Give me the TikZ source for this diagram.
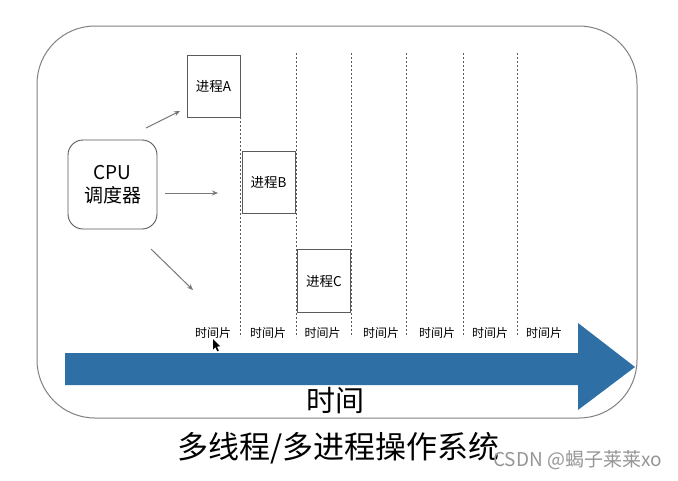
\documentclass[tikz,border=0pt]{standalone}
\usepackage{fontspec}
\setmainfont{Noto Sans CJK SC}
\usetikzlibrary{arrows.meta}
\definecolor{bigblue}{RGB}{46,112,166}
\definecolor{boxline}{RGB}{90,90,90}
\definecolor{arrowgray}{RGB}{120,120,120}
\definecolor{wmgray}{RGB}{150,150,150}
\tikzset{
  procbox/.style={draw=boxline, line width=0.9pt, minimum width=53pt, minimum height=62pt, inner sep=0pt, font=\fontsize{13.5}{15}\selectfont},
  cpubox/.style={draw=boxline, line width=0.9pt, rounded corners=15pt, minimum width=89pt, minimum height=89pt, inner sep=0pt, align=center, font=\fontsize{19}{26}\selectfont},
  slotline/.style={draw=boxline, line width=0.6pt, dash pattern=on 2pt off 2pt},
  slotlabel/.style={inner sep=0pt, font=\fontsize{12}{14}\selectfont},
  schedarrow/.style={draw=arrowgray, line width=1pt, -{Stealth[length=6pt,width=5pt]}},
}
\begin{document}
\begin{tikzpicture}[x=1pt,y=-1pt]
\useasboundingbox (0,0) rectangle (678,480);
\fill[white] (0,0) rectangle (678,480);
% outer frame
\draw[draw=gray, line width=1pt, rounded corners=58pt] (37,26) rectangle (637,418);
% dashed slot lines
\foreach \n/\x/\y in {l1/240/117, l2/296/53, l3/351/53, l4/406/53, l5/463/53, l6/517/53}{
  \coordinate (\n t) at (\x,\y);
  \coordinate (\n b) at (\x,337);
  \draw[slotline] (\n t) -- (\n b);
}
% CPU scheduler
\node[cpubox] (cpu) at (112.5,184.5) {CPU\\[-3pt]调度器};
% process boxes
\node[procbox, fill=white] (pa) at (213.5,86) {进程A};
\node[procbox, fill=white] (pb) at (268.5,182) {进程B};
\node[procbox, fill=white, minimum height=63pt] (pc) at (324,281) {进程C};
% scheduler arrows
\coordinate (a1s) at (146,128); \coordinate (a1e) at (180,111);
\coordinate (a2s) at (165,193); \coordinate (a2e) at (218,193);
\coordinate (a3s) at (151,249); \coordinate (a3e) at (193,290);
\draw[schedarrow] (a1s) -- (a1e);
\draw[schedarrow] (a2s) -- (a2e);
\draw[schedarrow] (a3s) -- (a3e);
% time slice labels
\foreach \n/\x in {s1/213, s2/268, s3/322.5, s4/381, s5/437, s6/490, s7/544}{
  \node[slotlabel] (\n) at (\x,333) {时间片};
}
% cursor
\fill[black] (213,339) -- (213,349.5) -- (215.4,347.2) -- (217.3,351.3) -- (218.8,350.6) -- (216.9,346.6) -- (220.2,346.3) -- cycle;
% big time arrow
\fill[bigblue] (65,353) -- (578,353) -- (578,323) -- (635,367) -- (578,410) -- (578,385) -- (65,385) -- cycle;
\node[inner sep=0pt, font=\fontsize{29}{32}\selectfont] (time) at (335,401) {时间};
% caption
\node[inner sep=0pt, anchor=west, font=\fontsize{31}{34}\selectfont] (cap) at (177,448) {多线程/多进程操作系统};
\node[inner sep=0pt, anchor=west, text=wmgray, font=\fontsize{19}{21}\selectfont] (wm) at (493,460) {CSDN @蝎子莱莱xo};
\end{tikzpicture}
\end{document}
